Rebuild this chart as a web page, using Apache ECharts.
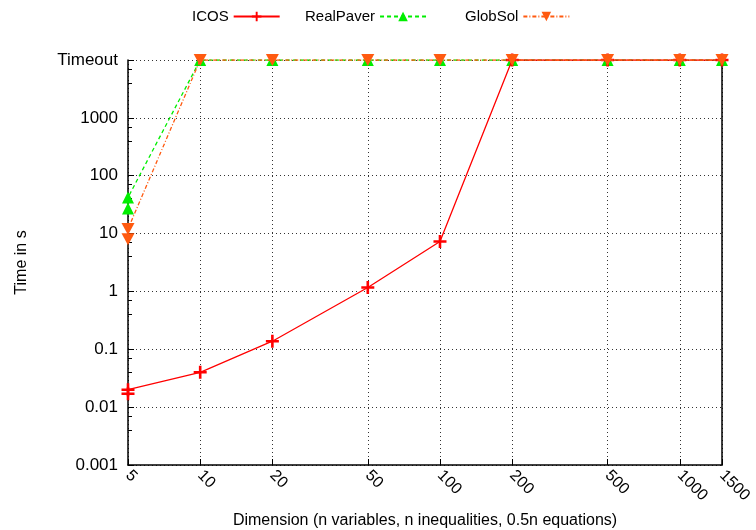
<!DOCTYPE html>
<html>
<head>
<meta charset="utf-8">
<script src="https://cdn.jsdelivr.net/npm/echarts@6/dist/echarts.min.js"></script>
<style>html,body{margin:0;padding:0;background:#fff;}#c{width:756px;height:530px;}</style>
</head>
<body>
<div id="c"></div>
<script>
const dims = [5, 10, 20, 50, 100, 200, 500, 1000, 1500];
const TIMEOUT = 10000;
const icos = [[5, 0.017], [5, 0.02], [10, 0.04], [20, 0.138], [50, 1.17], [100, 7.3], [200, TIMEOUT], [500, TIMEOUT], [1000, TIMEOUT], [1500, TIMEOUT]];
const realPaver = [[5, 27], [5, 42], [10, TIMEOUT], [20, TIMEOUT], [50, TIMEOUT], [100, TIMEOUT], [200, TIMEOUT], [500, TIMEOUT], [1000, TIMEOUT], [1500, TIMEOUT]];
const globSol = [[5, 8], [5, 12], [10, TIMEOUT], [20, TIMEOUT], [50, TIMEOUT], [100, TIMEOUT], [200, TIMEOUT], [500, TIMEOUT], [1000, TIMEOUT], [1500, TIMEOUT]];
const yTickLabels = {0.001: '0.001', 0.01: '0.01', 0.1: '0.1', 1: '1', 10: '10', 100: '100', 1000: '1000', 10000: 'Timeout'};

const FONT = 'Liberation Sans, Arial, sans-serif';
const plusPath = 'path://M4,0H6V4H10V6H6V10H4V6H0V4H4Z';
const downTri = 'path://M0,0L10,0L5,9Z';

function yLabel(v) {
  const keys = Object.keys(yTickLabels).map(Number);
  for (const k of keys) if (Math.abs(Math.log10(v) - Math.log10(k)) < 1e-6) return yTickLabels[k];
  return '';
}

const chart = echarts.init(document.getElementById('c'), null, {renderer: 'canvas'});
const legendBase = {
  top: 4, align: 'right', itemWidth: 46, itemHeight: 12, itemGap: 10,
  textStyle: {fontFamily: FONT, fontSize: 15, color: '#000'}
};
chart.setOption({
  animation: false,
  backgroundColor: '#fff',
  legend: [
    Object.assign({}, legendBase, {left: 187, data: ['ICOS']}),
    Object.assign({}, legendBase, {left: 300, data: ['RealPaver']}),
    Object.assign({}, legendBase, {left: 460, data: ['GlobSol']})
  ],
  grid: {left: 128, right: 34, top: 60, bottom: 65, outerBoundsMode: 'none', containLabel: false},
  xAxis: {
    type: 'log', logBase: 10, min: 5, max: 1500,
    name: 'Dimension (n variables, n inequalities, 0.5n equations)',
    nameLocation: 'middle', nameGap: 48,
    nameTextStyle: {fontFamily: FONT, fontSize: 16, color: '#000'},
    axisLine: {show: true, lineStyle: {color: '#000', width: 1.5}},
    axisTick: {show: true, inside: true, length: 6, customValues: dims, lineStyle: {color: '#000'}},
    axisLabel: {customValues: dims, rotate: -45, fontFamily: FONT, fontSize: 16, color: '#000', margin: 8,
      formatter: v => String(Math.round(v))},
    splitLine: {show: true, lineStyle: {color: '#333', type: [1, 3], width: 1}},
    minorTick: {show: false}
  },
  yAxis: [{
    type: 'log', logBase: 10, min: 0.001, max: 10000,
    name: 'Time in s', nameLocation: 'middle', nameGap: 98,
    nameTextStyle: {fontFamily: FONT, fontSize: 16, color: '#000'},
    axisLine: {show: true, lineStyle: {color: '#000', width: 1.5}},
    axisTick: {show: true, inside: true, length: 6, lineStyle: {color: '#000'}},
    minorTick: {show: true, splitNumber: 3, length: 4, lineStyle: {color: '#000'}},
    axisLabel: {fontFamily: FONT, fontSize: 17, color: '#000', margin: 10, formatter: yLabel},
    splitLine: {show: true, lineStyle: {color: '#333', type: [1, 3], width: 1}}
  }, {
    type: 'log', logBase: 10, min: 0.001, max: 10000, position: 'right',
    axisLine: {show: true, lineStyle: {color: '#000', width: 1.5}},
    axisTick: {show: false}, axisLabel: {show: false}, splitLine: {show: false}
  }],
  series: [
    {name: 'ICOS', type: 'line', data: icos, symbol: plusPath, symbolSize: 13,
      lineStyle: {color: '#ff0000', width: 1.3}, itemStyle: {color: '#ff0000'}, z: 3},
    {name: 'RealPaver', type: 'line', data: realPaver, symbol: 'triangle', symbolSize: 12,
      lineStyle: {color: '#00ee00', width: 1.3, type: [4, 3]}, itemStyle: {color: '#00ee00'}, z: 2},
    {name: 'GlobSol', type: 'line', data: globSol, symbol: downTri, symbolSize: [13, 12],
      lineStyle: {color: '#ff5a10', width: 1.3, type: [4, 2, 1, 2]}, itemStyle: {color: '#ff5a10'}, z: 4}
  ]
});
</script>
</body>
</html>
